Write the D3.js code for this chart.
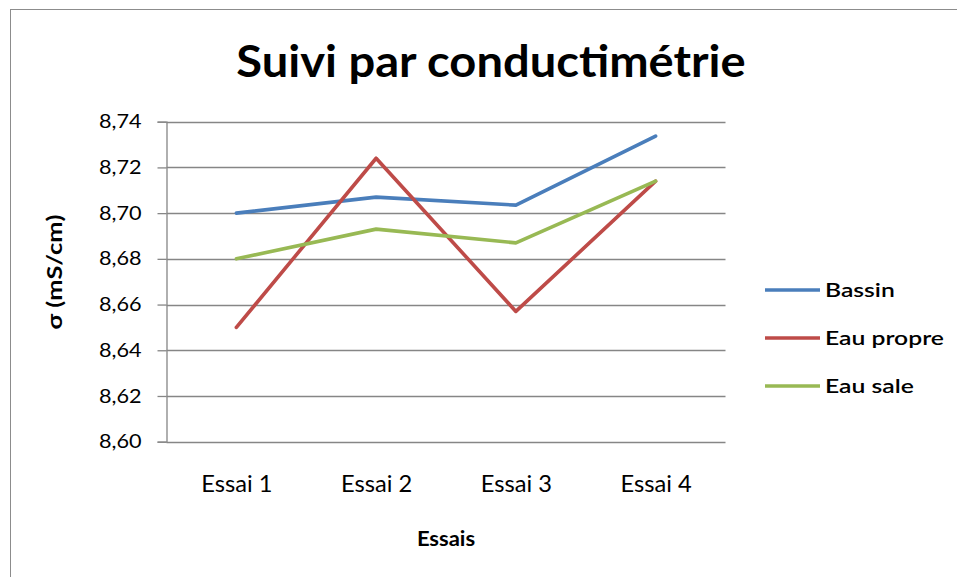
<!DOCTYPE html>
<html>
<head>
<meta charset="utf-8">
<script src="https://cdn.jsdelivr.net/npm/d3@7"></script>
<style>
  body { margin: 0; background: #fff; }
  svg { display: block; }
</style>
</head>
<body>
<div id="chart"></div>
<script>
const width = 957
const height = 577

// données
const essais = ["Essai 1", "Essai 2", "Essai 3", "Essai 4"]
const bassin = [8.700, 8.707, 8.7035, 8.7337]
const eauPropre = [8.650, 8.724, 8.657, 8.714]
const eauSale = [8.680, 8.693, 8.687, 8.714]
const yTicks = [8.60, 8.62, 8.64, 8.66, 8.68, 8.70, 8.72, 8.74]
const seriesNames = ["Bassin", "Eau propre", "Eau sale"]
const seriesColors = ["#4a7ebb", "#be4b48", "#98b954"]

const series = [bassin, eauPropre, eauSale].map((vals, i) => ({
    name: seriesNames[i],
    color: seriesColors[i],
    values: vals.map((v, j) => ({ essai: essais[j], v: v }))
}))

const plot = { left: 166.5, right: 725.5, top: 121.7, bottom: 441.7 }
const font = "Lato, 'Open Sans', sans-serif"

const fr = d3.formatLocale({ decimal: ",", thousands: " ", grouping: [3], currency: ["", " €"] })
const fmt = fr.format(".2f")

// étire le texte horizontalement (le graphique d'origine est un peu élargi)
function stretch(sel, sx) {
    sel.each(function () {
        const t = d3.select(this)
        const tx = +t.attr("x") || 0
        const ty = +t.attr("y") || 0
        t.attr("x", 0).attr("y", 0)
            .attr("transform", `translate(${tx},${ty}) scale(${sx},1)`)
    })
}

const svg = d3.select("#chart").append("svg")
    .attr("width", width)
    .attr("height", height)

// cadre du graphique
svg.append("rect")
    .attr("x", 10.5)
    .attr("y", 9.5)
    .attr("width", 960)
    .attr("height", 600)
    .attr("fill", "white")
    .attr("stroke", "#8c8c8c")
    .attr("stroke-width", 1)

const x = d3.scalePoint()
    .domain(essais)
    .range([plot.left, plot.right])
    .padding(0.5)

const y = d3.scaleLinear()
    .domain([8.60, 8.74])
    .range([plot.bottom, plot.top])

// grille
svg.append("g")
    .selectAll("line")
    .data(yTicks)
    .join("line")
    .attr("x1", plot.left)
    .attr("x2", plot.right)
    .attr("y1", d => Math.round(y(d)) + 0.5)
    .attr("y2", d => Math.round(y(d)) + 0.5)
    .attr("stroke", "#868686")
    .attr("stroke-width", 1.3)

// axe Y
const yAxis = svg.append("g")
    .attr("transform", `translate(${plot.left},0)`)
    .call(d3.axisLeft(y)
        .tickValues(yTicks)
        .tickFormat(fmt)
        .tickSize(9)
        .tickPadding(16))

yAxis.select(".domain").attr("stroke", "#868686").attr("stroke-width", 1.3)
yAxis.selectAll(".tick line").attr("stroke", "#868686").attr("stroke-width", 1.3)
yAxis.selectAll(".tick text")
    .attr("font-family", font)
    .attr("font-size", 19)
    .attr("fill", "#000")
    .call(stretch, 1.14)

// axe X (étiquettes seulement)
const xAxis = svg.append("g")
    .attr("transform", `translate(0,${plot.bottom})`)
    .call(d3.axisBottom(x).tickSize(0).tickPadding(34))

xAxis.select(".domain").remove()
xAxis.selectAll(".tick text")
    .attr("font-family", font)
    .attr("font-size", 23)
    .attr("fill", "#000")
    .call(stretch, 1.03)

// courbes
const line = d3.line()
    .x(d => x(d.essai))
    .y(d => y(d.v))

svg.append("g")
    .selectAll("path")
    .data(series)
    .join("path")
    .attr("d", d => line(d.values))
    .attr("fill", "none")
    .attr("stroke", d => d.color)
    .attr("stroke-width", 3.6)
    .attr("stroke-linejoin", "round")
    .attr("stroke-linecap", "round")

// titres
svg.append("text")
    .attr("x", 491)
    .attr("y", 77)
    .attr("text-anchor", "middle")
    .attr("font-family", font)
    .attr("font-weight", "bold")
    .attr("font-size", 44)
    .text("Suivi par conductimétrie")
    .call(stretch, 1.07)

svg.append("text")
    .attr("x", 446)
    .attr("y", 546)
    .attr("text-anchor", "middle")
    .attr("font-family", font)
    .attr("font-weight", "bold")
    .attr("font-size", 20)
    .text("Essais")
    .call(stretch, 1.1)

svg.append("text")
    .attr("transform", "translate(62,272) rotate(-90)")
    .attr("text-anchor", "middle")
    .attr("font-family", font)
    .attr("font-weight", "bold")
    .attr("font-size", 21)
    .attr("textLength", 115)
    .attr("lengthAdjust", "spacingAndGlyphs")
    .text("σ (mS/cm)")

// légende
const legend = svg.append("g")
    .selectAll("g")
    .data(series)
    .join("g")
    .attr("transform", (d, i) => `translate(765,${290 + i * 48})`)

legend.append("line")
    .attr("x1", 0)
    .attr("x2", 55)
    .attr("stroke", d => d.color)
    .attr("stroke-width", 3.6)

legend.append("text")
    .attr("x", 60)
    .attr("y", 7)
    .attr("font-family", font)
    .attr("font-size", 19)
    .attr("font-weight", 600)
    .text(d => d.name)
    .call(stretch, 1.3)
</script>
</body>
</html>
